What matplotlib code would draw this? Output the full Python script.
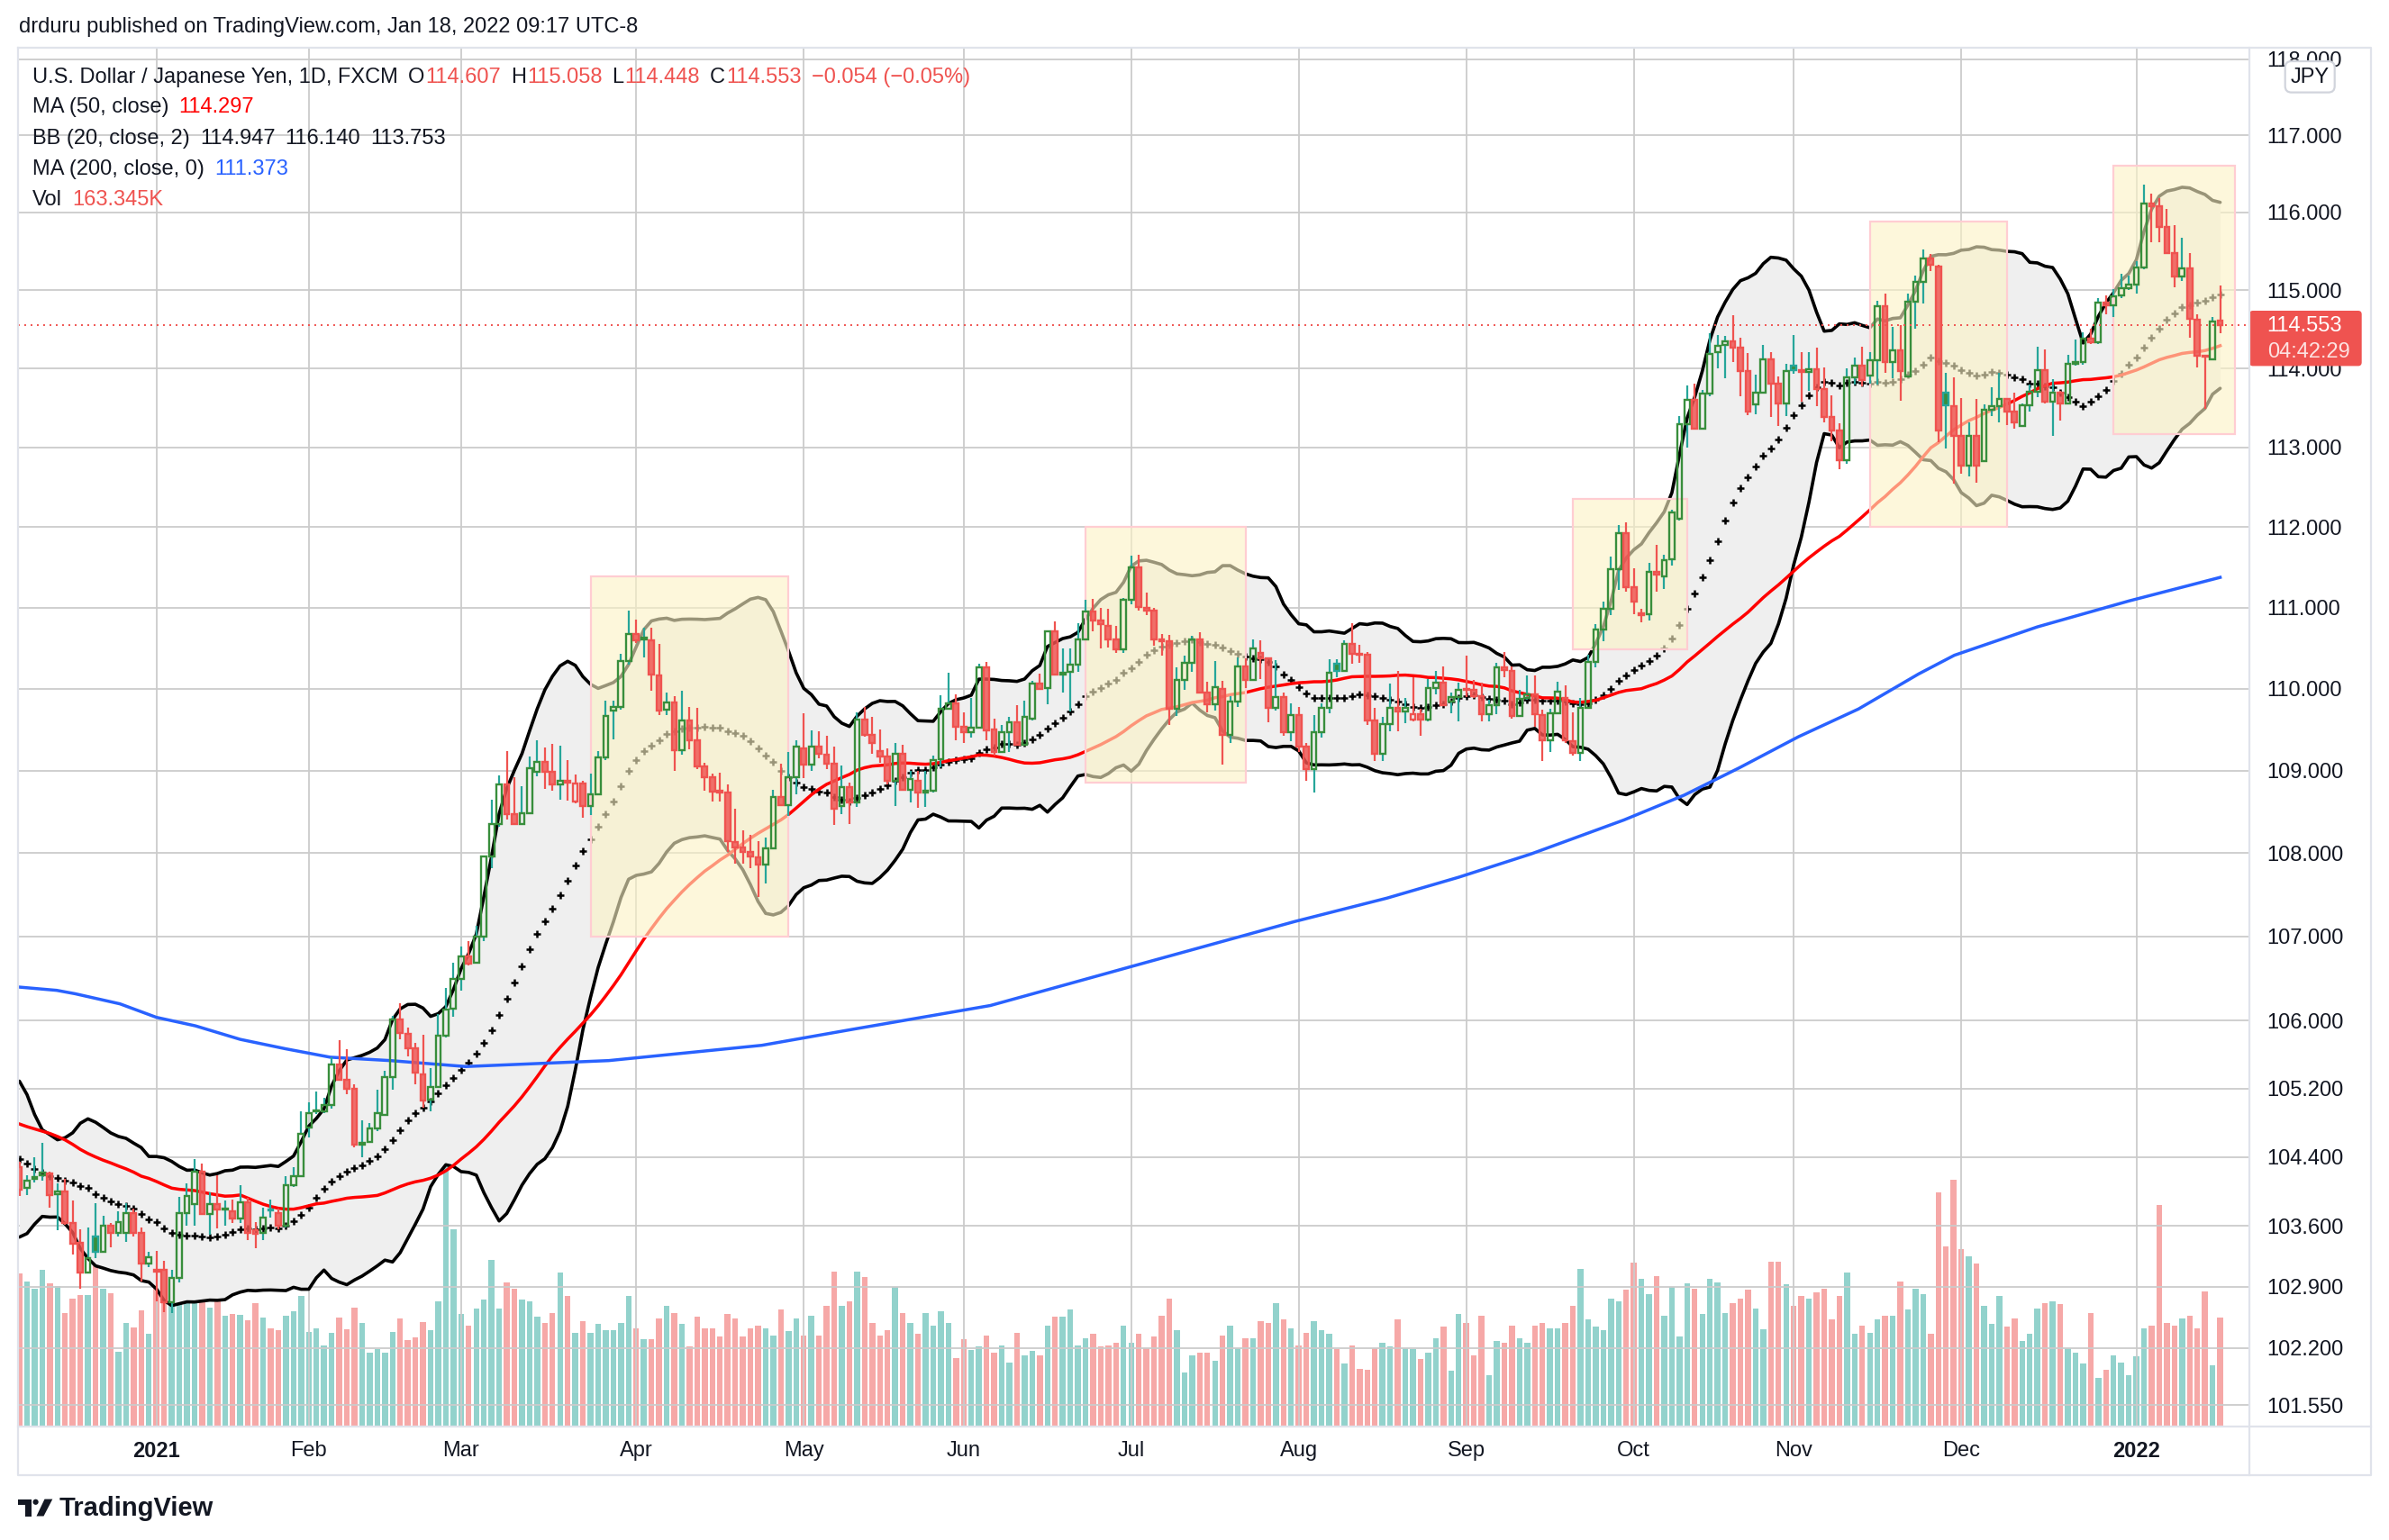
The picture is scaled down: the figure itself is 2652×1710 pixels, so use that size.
import numpy as np
import pandas as pd
import matplotlib
matplotlib.use("Agg")
import matplotlib.pyplot as plt
from matplotlib.patches import Rectangle, FancyBboxPatch, Polygon, Circle
from matplotlib.collections import LineCollection
from matplotlib.ticker import FixedLocator, NullLocator, NullFormatter, FuncFormatter

plt.rcParams['font.family'] = ['Liberation Sans', 'DejaVu Sans']

# ---------------------------------------------------------------- data
opens = [
    104.28, 104.04, 104.15, 104.19, 104.21, 103.97, 104.00, 103.64, 103.41, 103.06,
    103.48, 103.30, 103.60, 103.52, 103.52, 103.75, 103.52, 103.17, 103.10, 103.10,
    102.72, 103.00, 103.75, 103.85, 104.23, 103.74, 103.85, 103.79, 103.77, 103.69,
    103.88, 103.55, 103.52, 103.79, 103.75, 103.60, 104.07, 104.18, 104.75, 104.93,
    104.93, 105.01, 105.48, 105.30, 105.20, 104.55, 104.58, 104.73, 104.89, 105.34,
    106.02, 105.85, 105.67, 105.37, 105.07, 105.22, 105.82, 106.14, 106.50, 106.76,
    106.69, 107.00, 107.96, 108.35, 108.83, 108.47, 108.35, 108.48, 108.98, 109.11,
    108.98, 108.83, 108.87, 108.62, 108.84, 108.57, 108.71, 109.16, 109.73, 109.77,
    110.34, 110.67, 110.60, 110.59, 110.16, 109.74, 109.83, 109.25, 109.61, 109.37,
    109.05, 108.92, 108.75, 108.73, 108.13, 108.07, 108.01, 107.95, 107.86, 108.06,
    108.68, 108.58, 108.92, 109.27, 109.07, 109.29, 109.19, 109.08, 108.57, 108.80,
    108.61, 109.62, 109.43, 109.24, 109.17, 108.87, 109.20, 108.76, 108.87, 108.73,
    108.75, 109.14, 109.75, 109.82, 109.53, 109.47, 109.52, 110.26, 109.50, 109.23,
    109.47, 109.59, 109.31, 109.63, 110.06, 110.01, 110.71, 110.17, 110.21, 110.29,
    110.60, 110.95, 110.84, 110.77, 110.60, 110.48, 111.10, 111.50, 110.99, 110.96,
    110.60, 110.58, 109.75, 110.11, 110.32, 110.61, 109.95, 109.81, 110.00, 109.43,
    109.84, 110.27, 110.11, 110.44, 110.37, 109.76, 109.90, 109.47, 109.68, 109.29,
    109.02, 109.47, 109.76, 110.31, 110.22, 110.55, 110.43, 110.42, 109.61, 109.20,
    109.57, 109.76, 109.72, 109.62, 109.69, 109.62, 110.01, 110.07, 109.84, 109.90,
    110.00, 109.98, 109.91, 109.69, 109.80, 110.26, 110.22, 109.67, 109.88, 109.93,
    109.68, 109.37, 109.70, 109.88, 109.36, 109.21, 109.76, 110.33, 110.73, 110.98,
    111.47, 111.92, 111.25, 110.90, 110.92, 111.44, 111.39, 111.60, 112.10, 113.29,
    113.60, 113.24, 113.68, 114.21, 114.30, 114.34, 114.26, 113.96, 113.54, 113.69,
    114.11, 113.81, 113.56, 114.03, 113.98, 113.95, 113.99, 113.74, 113.38, 113.21,
    112.84, 113.88, 114.04, 113.91, 114.10, 114.79, 114.08, 114.23, 113.90, 114.85,
    115.10, 115.40, 115.30, 113.69, 113.52, 113.14, 112.77, 113.15, 112.83, 113.48,
    113.52, 113.61, 113.45, 113.27, 113.53, 113.70, 113.98, 113.58, 113.69, 113.56,
    114.06, 114.08, 114.38, 114.33, 114.84, 114.80, 114.93, 115.02, 115.07, 115.29,
    116.12, 116.08, 115.81, 115.47, 115.17, 115.28, 114.62, 114.16, 114.11, 114.607,
]
highs = [
    104.35, 104.19, 104.40, 104.57, 104.23, 104.10, 104.15, 103.90, 103.56, 103.58,
    103.87, 103.72, 103.64, 103.77, 103.87, 103.80, 103.58, 103.30, 103.31, 103.20,
    103.10, 103.94, 104.09, 104.38, 104.33, 103.99, 104.19, 103.90, 103.91, 104.07,
    103.93, 103.65, 103.81, 103.91, 103.80, 104.18, 104.28, 104.93, 105.04, 105.17,
    105.09, 105.57, 105.77, 105.66, 105.25, 104.83, 104.80, 105.19, 105.41, 106.06,
    106.21, 105.92, 105.74, 105.83, 105.44, 106.08, 106.39, 106.69, 106.88, 106.95,
    107.13, 107.97, 108.64, 108.94, 109.24, 108.92, 108.81, 109.17, 109.37, 109.28,
    109.32, 109.30, 109.13, 108.95, 108.88, 108.96, 109.24, 109.85, 109.85, 110.43,
    110.96, 110.85, 110.75, 110.75, 110.55, 109.95, 109.91, 109.97, 109.77, 109.76,
    109.09, 108.96, 108.97, 108.83, 108.54, 108.27, 108.22, 108.14, 108.19, 108.77,
    109.08, 109.23, 109.37, 109.70, 109.49, 109.48, 109.42, 109.29, 109.06, 108.85,
    109.71, 109.78, 109.65, 109.50, 109.27, 109.34, 109.31, 109.00, 109.00, 109.00,
    109.18, 109.92, 110.20, 109.93, 109.71, 109.89, 110.31, 110.33, 109.63, 109.56,
    109.65, 109.80, 109.85, 110.10, 110.18, 110.72, 110.83, 110.49, 110.49, 110.80,
    111.10, 111.11, 110.99, 110.98, 110.77, 111.12, 111.64, 111.65, 111.18, 111.00,
    110.67, 110.66, 110.26, 110.40, 110.65, 110.69, 110.08, 110.34, 110.09, 109.91,
    110.38, 110.37, 110.60, 110.59, 110.38, 110.35, 109.95, 109.82, 109.78, 109.34,
    109.68, 109.82, 110.36, 110.36, 110.59, 110.80, 110.54, 110.45, 109.76, 109.65,
    110.06, 110.22, 109.88, 110.14, 109.75, 110.12, 110.22, 110.27, 109.95, 110.07,
    110.41, 110.11, 110.07, 109.86, 110.32, 110.45, 110.27, 109.99, 110.16, 110.16,
    109.74, 109.75, 110.08, 110.04, 109.71, 109.89, 110.42, 110.79, 111.07, 111.63,
    112.03, 112.06, 111.49, 110.98, 111.55, 111.78, 111.65, 112.22, 113.39, 113.78,
    113.80, 113.72, 114.45, 114.43, 114.41, 114.68, 114.39, 114.20, 113.92, 114.30,
    114.21, 113.90, 114.06, 114.42, 114.21, 114.21, 114.26, 114.01, 113.66, 113.30,
    114.00, 114.14, 114.28, 114.21, 114.86, 114.96, 114.53, 114.55, 114.95, 115.19,
    115.52, 115.46, 115.32, 113.94, 113.88, 113.62, 113.32, 113.61, 113.54, 113.76,
    113.94, 113.62, 113.69, 113.56, 113.79, 114.27, 114.24, 113.86, 113.71, 114.17,
    114.37, 114.46, 114.50, 114.90, 114.93, 115.01, 115.21, 115.18, 115.37, 116.36,
    116.24, 116.18, 116.04, 115.84, 115.67, 115.48, 114.69, 114.17, 114.65, 115.058,
]
lows = [
    103.95, 103.96, 104.11, 104.13, 103.81, 103.55, 103.62, 103.27, 102.88, 103.06,
    103.23, 103.30, 103.35, 103.48, 103.42, 103.48, 102.96, 103.13, 102.73, 102.61,
    102.60, 102.95, 103.60, 103.60, 103.74, 103.50, 103.57, 103.60, 103.64, 103.64,
    103.44, 103.34, 103.44, 103.70, 103.56, 103.58, 104.05, 104.17, 104.63, 104.90,
    104.91, 104.97, 105.30, 105.14, 104.51, 104.40, 104.57, 104.70, 104.89, 105.19,
    105.78, 105.58, 105.25, 104.98, 104.93, 105.21, 105.80, 106.05, 106.36, 106.66,
    106.68, 106.95, 107.82, 108.32, 108.41, 108.34, 108.35, 108.48, 108.93, 108.78,
    108.75, 108.64, 108.63, 108.60, 108.43, 108.46, 108.70, 109.13, 109.38, 109.74,
    110.29, 110.56, 110.38, 109.97, 109.68, 109.68, 109.00, 109.19, 109.26, 109.02,
    108.75, 108.62, 108.62, 108.01, 107.87, 107.87, 107.82, 107.47, 107.64, 108.05,
    108.57, 108.45, 108.71, 108.91, 109.00, 109.15, 109.02, 108.34, 108.47, 108.35,
    108.56, 109.41, 109.20, 109.09, 108.83, 108.57, 108.75, 108.61, 108.55, 108.56,
    108.73, 109.04, 109.75, 109.37, 109.34, 109.40, 109.51, 109.37, 109.18, 109.21,
    109.22, 109.30, 109.31, 109.61, 109.98, 109.81, 110.16, 109.95, 109.72, 110.21,
    110.60, 110.70, 110.49, 110.51, 110.44, 110.44, 111.04, 110.96, 110.91, 110.53,
    110.41, 109.55, 109.66, 109.99, 110.21, 109.94, 109.71, 109.73, 109.07, 109.33,
    109.78, 110.01, 110.10, 110.12, 109.59, 109.73, 109.42, 109.36, 109.22, 108.88,
    108.73, 109.40, 109.70, 110.14, 110.21, 110.31, 110.32, 109.55, 109.12, 109.12,
    109.48, 109.48, 109.58, 109.60, 109.42, 109.60, 109.93, 109.79, 109.70, 109.60,
    109.90, 109.89, 109.60, 109.60, 109.69, 110.14, 109.63, 109.65, 109.86, 109.53,
    109.12, 109.22, 109.69, 109.33, 109.18, 109.12, 109.75, 110.26, 110.58, 110.90,
    111.22, 111.20, 110.92, 110.82, 110.84, 111.20, 111.23, 111.52, 112.08, 113.00,
    113.23, 113.22, 113.65, 114.00, 113.87, 114.08, 113.65, 113.41, 113.42, 113.68,
    113.38, 113.27, 113.39, 113.93, 113.58, 113.71, 113.52, 113.31, 113.08, 112.73,
    112.79, 113.79, 113.77, 113.80, 113.79, 113.94, 113.87, 113.59, 113.88, 114.50,
    114.83, 115.24, 113.06, 112.99, 112.54, 112.67, 112.63, 112.56, 112.82, 113.40,
    113.32, 113.28, 113.24, 113.26, 113.45, 113.63, 113.56, 113.15, 113.34, 113.55,
    114.04, 114.05, 114.31, 114.31, 114.69, 114.66, 114.90, 115.00, 114.95, 115.27,
    115.62, 115.62, 115.47, 115.04, 115.12, 114.39, 114.01, 113.49, 114.10, 114.448,
]
closes = [
    104.02, 104.13, 104.17, 104.22, 103.96, 104.00, 103.64, 103.40, 103.06, 103.23,
    103.30, 103.60, 103.52, 103.65, 103.75, 103.52, 103.17, 103.24, 103.08, 102.72,
    103.00, 103.75, 103.95, 104.23, 103.74, 103.85, 103.79, 103.80, 103.69, 103.88,
    103.52, 103.51, 103.70, 103.78, 103.60, 104.07, 104.18, 104.67, 104.91, 104.94,
    105.01, 105.48, 105.30, 105.20, 104.55, 104.57, 104.73, 104.91, 105.34, 106.02,
    105.86, 105.67, 105.39, 105.06, 105.22, 105.82, 106.13, 106.50, 106.76, 106.68,
    107.00, 107.96, 108.35, 108.83, 108.47, 108.35, 108.48, 109.03, 109.11, 108.98,
    108.83, 108.87, 108.85, 108.84, 108.57, 108.71, 109.16, 109.66, 109.77, 110.34,
    110.67, 110.59, 110.63, 110.17, 109.73, 109.83, 109.25, 109.61, 109.37, 109.05,
    108.92, 108.74, 108.73, 108.14, 108.07, 108.01, 107.96, 107.86, 108.06, 108.68,
    108.58, 108.92, 109.29, 109.07, 109.29, 109.20, 109.08, 108.54, 108.80, 108.61,
    109.62, 109.43, 109.34, 109.17, 108.87, 109.20, 108.76, 108.90, 108.73, 108.75,
    109.13, 109.75, 109.82, 109.53, 109.47, 109.52, 110.26, 109.49, 109.23, 109.47,
    109.59, 109.31, 109.65, 110.06, 110.00, 110.71, 110.17, 110.20, 110.29, 110.60,
    110.95, 110.84, 110.79, 110.60, 110.48, 111.10, 111.50, 111.01, 110.96, 110.60,
    110.58, 109.75, 110.11, 110.32, 110.61, 109.95, 109.81, 110.02, 109.43, 109.84,
    110.27, 110.11, 110.49, 110.37, 109.76, 109.90, 109.47, 109.68, 109.29, 109.02,
    109.47, 109.76, 110.20, 110.22, 110.55, 110.43, 110.42, 109.61, 109.20, 109.57,
    109.76, 109.72, 109.76, 109.69, 109.62, 110.01, 110.07, 109.80, 109.90, 109.99,
    109.98, 109.91, 109.69, 109.80, 110.26, 110.23, 109.67, 109.87, 109.93, 109.69,
    109.37, 109.70, 109.96, 109.37, 109.21, 109.76, 110.33, 110.73, 110.98, 111.47,
    111.92, 111.25, 111.07, 110.93, 111.44, 111.41, 111.59, 112.18, 113.29, 113.60,
    113.24, 113.68, 114.18, 114.29, 114.34, 114.26, 113.96, 113.45, 113.69, 114.11,
    113.81, 113.56, 113.96, 113.98, 113.95, 113.99, 113.74, 113.38, 113.21, 112.84,
    113.88, 114.04, 113.85, 114.10, 114.79, 114.08, 114.23, 113.97, 114.85, 115.10,
    115.40, 115.32, 113.21, 113.53, 113.14, 112.77, 113.15, 112.77, 113.47, 113.52,
    113.61, 113.45, 113.32, 113.53, 113.70, 113.98, 113.58, 113.69, 113.56, 114.06,
    114.08, 114.38, 114.33, 114.84, 114.80, 114.92, 115.02, 115.07, 115.29, 116.12,
    116.08, 115.81, 115.48, 115.17, 115.28, 114.63, 114.16, 114.15, 114.60, 114.553,
]
volumes_k = [
    230, 218, 207, 236, 215, 211, 170, 193, 198, 198,
    256, 208, 201, 112, 156, 149, 175, 139, 230, 233,
    296, 238, 271, 186, 197, 179, 219, 167, 169, 168,
    160, 185, 164, 147, 145, 167, 174, 196, 142, 147,
    122, 141, 164, 146, 179, 155, 110, 116, 111, 142,
    163, 129, 134, 157, 144, 188, 511, 297, 169, 152,
    177, 191, 251, 177, 217, 208, 191, 188, 165, 156,
    171, 232, 197, 141, 158, 141, 154, 144, 144, 155,
    196, 147, 131, 131, 163, 181, 170, 154, 120, 165,
    148, 147, 135, 169, 163, 135, 147, 152, 148, 136,
    176, 143, 162, 136, 167, 136, 181, 233, 182, 189,
    233, 225, 156, 137, 144, 210, 170, 155, 139, 170,
    152, 174, 156, 102, 131, 114, 120, 137, 110, 121,
    96, 141, 107, 113, 106, 152, 165, 165, 176, 121,
    132, 139, 120, 121, 125, 152, 126, 139, 118, 135,
    167, 192, 144, 80, 107, 110, 110, 98, 136, 151,
    118, 132, 132, 158, 155, 186, 161, 147, 122, 141,
    158, 144, 139, 116, 94, 121, 86, 84, 118, 125,
    120, 161, 117, 116, 101, 110, 132, 150, 83, 169,
    155, 106, 167, 77, 128, 125, 152, 133, 125, 152,
    156, 147, 147, 156, 182, 237, 161, 150, 144, 193,
    188, 206, 247, 222, 199, 226, 167, 210, 135, 215,
    208, 169, 222, 217, 171, 186, 192, 206, 177, 146,
    248, 248, 214, 182, 197, 192, 202, 207, 161, 196,
    232, 139, 152, 140, 161, 167, 167, 218, 176, 208,
    199, 139, 353, 272, 372, 267, 257, 245, 181, 154,
    196, 150, 163, 128, 139, 177, 185, 188, 184, 117,
    110, 94, 171, 73, 84, 107, 96, 77, 105, 148,
    151, 334, 155, 151, 162, 166, 148, 203, 92, 163.345,
]
# closes of the 49 sessions before the first visible bar (feed the MA50 / BB windows)
warmup_closes = [
    105.68, 105.48, 105.53, 105.32, 105.74, 105.67, 106.00, 105.98, 105.62, 105.32,
    105.47, 105.13, 105.43, 105.40, 105.45, 105.49, 104.55, 104.87, 104.71, 104.86,
    104.44, 104.29, 104.61, 104.66, 104.73, 104.52, 104.53, 103.51, 103.36, 105.36,
    105.30, 105.41, 105.11, 104.62, 104.58, 104.20, 103.82, 103.79, 103.84, 104.56,
    104.47, 104.45, 104.24, 104.08, 104.29, 104.33, 104.45, 103.88, 104.17,
]
# 200-day MA (bar index, value)
ma200_idx = [-0.2, 4.9, 7.3, 13.2, 18, 23.1, 29, 34.9, 40.8, 48.7, 58.6, 77.4, 97.5,
             109.5, 127.5, 147.5, 167.5, 179.6, 189, 198.5, 210.7, 218.6, 225.8,
             233.6, 241.5, 249.4, 254.1, 265, 277, 289]
ma200_val = [106.40, 106.36, 106.32, 106.20, 106.04, 105.94, 105.78, 105.67, 105.57,
             105.53, 105.46, 105.53, 105.71, 105.90, 106.18, 106.68, 107.18, 107.46,
             107.71, 107.99, 108.40, 108.70, 109.03, 109.41, 109.75, 110.18, 110.41,
             110.76, 111.08, 111.373]
month_idx = [18, 38, 58, 81, 103, 124, 146, 168, 190, 212, 233, 255, 278]
month_labels = ['2021', 'Feb', 'Mar', 'Apr', 'May', 'Jun', 'Jul', 'Aug', 'Sep',
                'Oct', 'Nov', 'Dec', '2022']
price_ticks = [101.55, 102.2, 102.9, 103.6, 104.4, 105.2, 106, 107, 108, 109, 110,
               111, 112, 113, 114, 115, 116, 117, 118]
box_start = [75, 140, 204, 243, 275]
box_end = [101, 161, 219, 261, 291]
box_low = [107.0, 108.85, 110.48, 112.0, 113.17]
box_high = [111.39, 112.0, 112.35, 115.88, 116.61]
last_price = 114.553

# ---------------------------------------------------------------- figure
W, H, DPI = 2652, 1710, 100
FS = 17
fig = plt.figure(figsize=(W / DPI, H / DPI), dpi=DPI)
fig.patch.set_facecolor('white')

L, R, T, B = 20, 2496.7, 53, 1583
pos = [L / W, 1 - B / H, (R - L) / W, (B - T) / H]
XLIM = (-0.18, 292.8)

n = len(closes)
idx = np.arange(n)
o = np.array(opens); h = np.array(highs); l = np.array(lows); c = np.array(closes)

TEAL = '#26a69a'; GREEN = '#388e3c'; RED = '#ef5350'; DARK = '#131722'
RED_FILL = (0.937, 0.325, 0.314, 0.82)

# volume pane (underneath)
axv = fig.add_axes(pos)
axv.set_zorder(0)
vcol = [(0.149, 0.651, 0.604, 0.5) if c[i] >= o[i] else (0.937, 0.325, 0.314, 0.5)
        for i in range(n)]
axv.bar(idx, volumes_k, width=0.76, color=vcol, linewidth=0)
axv.set_xlim(*XLIM)
axv.set_ylim(0, 2088)
axv.axis('off')

# price pane
ax = fig.add_axes(pos)
ax.set_zorder(1)
ax.patch.set_visible(False)
ax.set_yscale('log')
ax.set_xlim(*XLIM)
ax.set_ylim(101.32, 118.15)
ax.yaxis.set_major_locator(FixedLocator(price_ticks))
ax.yaxis.set_major_formatter(FuncFormatter(lambda v, p: f'{v:.3f}'))
ax.yaxis.set_minor_locator(NullLocator())
ax.yaxis.set_minor_formatter(NullFormatter())
ax.set_xticks(month_idx)
ax.set_xticklabels(month_labels)
for lab in ax.get_xticklabels():
    if lab.get_text() in ('2021', '2022'):
        lab.set_fontweight('bold')
ax.tick_params(axis='y', which='both', left=False, right=False, labelleft=False,
               labelright=True, length=0, pad=14, labelsize=FS, labelcolor=DARK)
ax.tick_params(axis='x', length=0, pad=12, labelsize=FS, labelcolor=DARK)
ax.grid(True, color='#cbcbcb', linewidth=1.3)
ax.set_axisbelow(True)
for s in ax.spines.values():
    s.set_visible(False)

# indicators
allc = pd.Series(list(warmup_closes) + list(closes))
basis = allc.rolling(20).mean().values[-n:]
sd = allc.rolling(20).std(ddof=0).values[-n:]
upper = basis + 2 * sd
lower = basis - 2 * sd
ma50 = allc.rolling(50).mean().values[-n:]

ax.fill_between(idx, lower, upper, color='#efefef', linewidth=0, zorder=1)
ax.plot(idx, upper, color='black', lw=2.6, zorder=2, solid_capstyle='round')
ax.plot(idx, lower, color='black', lw=2.6, zorder=2, solid_capstyle='round')
ax.plot(idx, basis, ls='none', marker='+', color='black', ms=5.8, mew=1.8, zorder=2.1)
ax.plot(idx, ma50, color='#ff0000', lw=2.5, zorder=2.2)
ax.plot(ma200_idx, ma200_val, color='#2962ff', lw=2.5, zorder=2.2)

# highlight boxes (drawn over indicators, under candles)
for s0, s1, lo, hi in zip(box_start, box_end, box_low, box_high):
    ax.add_patch(Rectangle((s0, lo), s1 - s0, hi - lo,
                           facecolor=(0.988, 0.953, 0.773, 0.61),
                           edgecolor='#ffcdd2', lw=1.6, zorder=3))

# candles (hollow-candle style)
prev = [warmup_closes[-1]] + list(closes[:-1])
faces, edges, segs, segcols = [], [], [], []
for i in range(n):
    up_body = c[i] >= o[i]
    green = c[i] >= prev[i]
    if green and up_body:
        fc, ec, wc = 'none', GREEN, TEAL
    elif green:
        fc, ec, wc = GREEN, TEAL, TEAL
    elif up_body:
        fc, ec, wc = 'none', RED, RED
    else:
        fc, ec, wc = RED_FILL, RED, RED
    faces.append(fc); edges.append(ec)
    top = max(o[i], c[i]); bot = min(o[i], c[i])
    segs.append([(i, h[i]), (i, top)]); segcols.append(wc)
    segs.append([(i, bot), (i, l[i])]); segcols.append(wc)
ax.add_collection(LineCollection(segs, colors=segcols, linewidths=1.6, zorder=4))
bot_arr = np.minimum(o, c)
hgt = np.maximum(np.abs(c - o), 0.004)
for i in range(n):
    ax.add_patch(Rectangle((i - 0.34, bot_arr[i]), 0.68, hgt[i], facecolor=faces[i],
                           edgecolor=edges[i], lw=1.7, zorder=4.5))

ax.axhline(last_price, color=RED, lw=1.4, ls=(0, (1, 2.6)), zorder=5)

# ---------------------------------------------------------------- overlay (pixel coords)
ov = fig.add_axes([0, 0, 1, 1])
ov.set_xlim(0, W)
ov.set_ylim(H, 0)
ov.axis('off')
ov.set_zorder(10)
ov.patch.set_visible(False)

bc = '#e0e3eb'
ov.plot([L, 2632, 2632, L, L], [T, T, 1638, 1638, T], color=bc, lw=1.6)
ov.plot([R, R], [T, 1638], color=bc, lw=1.6)
ov.plot([L, 2632], [B + 1, B + 1], color=bc, lw=1.6)

ov.text(21, 30, 'drduru published on TradingView.com, Jan 18, 2022 09:17 UTC-8',
        fontsize=FS, color=DARK, va='center', ha='left')

renderer = fig.canvas.get_renderer()


def seq(x, y, pieces, size=FS):
    for s, col, gap in pieces:
        t = ov.text(x, y, s, color=col, fontsize=size, va='center', ha='left')
        x += t.get_window_extent(renderer=renderer).width + gap


G = 11
seq(36, 86, [('U.S. Dollar / Japanese Yen, 1D, FXCM', DARK, G), ('O', DARK, 1),
             ('114.607', RED, G), ('H', DARK, 1), ('115.058', RED, G), ('L', DARK, 1),
             ('114.448', RED, G), ('C', DARK, 1), ('114.553', RED, G),
             ('\u22120.054 (\u22120.05%)', RED, 0)])
seq(36, 119, [('MA (50, close)', DARK, G), ('114.297', '#ff0000', 0)])
seq(36, 154, [('BB (20, close, 2)', DARK, G), ('114.947', DARK, G), ('116.140', DARK, G),
              ('113.753', DARK, 0)])
seq(36, 188, [('MA (200, close, 0)', DARK, G), ('111.373', '#2962ff', 0)])
seq(36, 222, [('Vol', DARK, G), ('163.345K', RED, 0)])

# last price label
ov.add_patch(FancyBboxPatch((2497, 345), 124.7, 61.4, boxstyle='round,pad=0,rounding_size=4',
                            facecolor=RED, edgecolor='none'))
ov.text(2516.7, 362, '114.553', color='white', fontsize=FS, va='center', ha='left')
ov.text(2516.7, 391, '04:42:29', color='#fde2e1', fontsize=FS, va='center', ha='left')

# currency badge
ov.add_patch(FancyBboxPatch((2536.7, 68), 55, 34.6, boxstyle='round,pad=0,rounding_size=7',
                            facecolor='white', edgecolor='#d1d4dc', lw=1.6))
ov.text(2564.2, 85.5, 'JPY', color=DARK, fontsize=FS, va='center', ha='center')

# TradingView logo
ov.add_patch(Polygon([(20, 1664.6), (35, 1664.6), (35, 1683.5), (28.3, 1683.5), (28.3, 1670.8),
                      (20, 1670.8)], closed=True, facecolor=DARK, edgecolor='none'))
ov.add_patch(Circle((39.6, 1667.8), 3.1, facecolor=DARK, edgecolor='none'))
ov.add_patch(Polygon([(49.5, 1664.6), (58.3, 1664.6), (48.5, 1683.5), (40.5, 1683.5)],
                     closed=True, facecolor=DARK, edgecolor='none'))
ov.text(66, 1675, 'TradingView', fontsize=21, fontweight='bold', color=DARK,
        va='center', ha='left')

fig.savefig('out.png', dpi=DPI, facecolor='white')
